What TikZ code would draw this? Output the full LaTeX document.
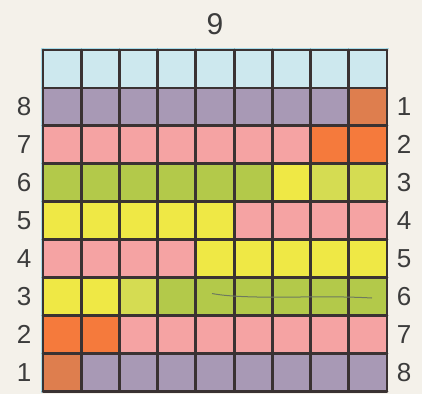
\documentclass[tikz,border=0pt]{standalone}
\usepackage{fontspec}
\setmainfont{Liberation Sans}
\definecolor{paper}{HTML}{F4F1EA}
\definecolor{cB}{HTML}{CDE8EE}
\definecolor{cP}{HTML}{A899B5}
\definecolor{cO}{HTML}{DE7E4E}
\definecolor{cR}{HTML}{F57A3C}
\definecolor{cK}{HTML}{F5A3A3}
\definecolor{cG}{HTML}{B3C94A}
\definecolor{cY}{HTML}{EFE845}
\definecolor{cL}{HTML}{D5DC52}
\definecolor{gridc}{HTML}{3A3232}
\definecolor{numc}{HTML}{3C3C3C}
\definecolor{edgeb}{HTML}{A8DCEA}
\definecolor{pencil}{HTML}{6E7A5E}
\begin{document}
\begin{tikzpicture}[x=1pt,y=-1pt,
  num/.style={text=numc,font=\fontsize{26}{26}\selectfont,inner sep=0pt},
  bignum/.style={text=numc,font=\fontsize{30}{30}\selectfont,inner sep=0pt},
  gridline/.style={gridc,line width=2.8pt,line cap=round}]
\fill[paper] (0,0) rectangle (422,394);
\useasboundingbox (0,0) rectangle (422,394);
\def\cw{38.22}
\def\ch{37.9}
\foreach \row [count=\j from 0] in {
  {cB,cB,cB,cB,cB,cB,cB,cB,cB},
  {cP,cP,cP,cP,cP,cP,cP,cP,cO},
  {cK,cK,cK,cK,cK,cK,cK,cR,cR},
  {cG,cG,cG,cG,cG,cG,cY,cL,cL},
  {cY,cY,cY,cY,cY,cK,cK,cK,cK},
  {cK,cK,cK,cK,cY,cY,cY,cY,cY},
  {cY,cY,cL,cG,cG,cG,cG,cG,cG},
  {cR,cR,cK,cK,cK,cK,cK,cK,cK},
  {cO,cP,cP,cP,cP,cP,cP,cP,cP}}{
  \foreach \c [count=\i from 0] in \row {
    \fill[\c] (43+\i*\cw,50+\j*\ch) rectangle +(\cw,\ch);
  }
}
% light blue outer edge on left and top
\draw[edgeb,line width=1.4pt] (41.2,393) -- (41.2,48.2) -- (388.5,48.2);
% grid lines
\foreach \i in {0,...,9}{
  \draw[gridline] (43+\i*\cw,50) -- (43+\i*\cw,50+9*\ch);
  \draw[gridline] (43,50+\i*\ch) -- (43+9*\cw,50+\i*\ch);
}
% pencil mark
\draw[pencil,line width=1pt] (212,293.5) .. controls (230,297) and (260,297.5) .. (300,297)
  .. controls (330,296.5) and (355,297) .. (372,298);
% labels
\node[bignum] (t9) at (215,24.5) {9};
\foreach \n [count=\k from 1] in {8,7,6,5,4,3,2,1}{
  \node[num] (L\n) at (24,50+\k*\ch+0.5*\ch) {\n};
}
\foreach \n [count=\k from 1] in {1,2,3,4,5,6,7,8}{
  \node[num] (R\n) at (404,50+\k*\ch+0.5*\ch) {\n};
}
\end{tikzpicture}
\end{document}
